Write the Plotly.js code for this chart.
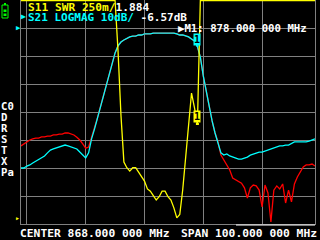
<!DOCTYPE html>
<html><head><meta charset="utf-8">
<script src="https://cdn.plot.ly/plotly-3.0.1.min.js"></script>
<style>html,body{margin:0;padding:0;background:#000;overflow:hidden}#c{width:320px;height:240px}</style>
</head><body><div id="c"></div>
<script>
const freqMHz = [
 818,819,820,821,822,823,824,825,826,827,
 828,829,830,831,832,833,834,835,836,837,
 838,839,840,841,842,843,844,845,846,847,
 848,849,850,851,852,853,854,855,856,857,
 858,859,860,861,862,863,864,865,866,867,
 868,869,870,871,872,873,874,875,876,877,
 878,879,880,881,882,883,884,885,886,887,
 888,889,890,891,892,893,894,895,896,897,
 898,899,900,901,902,903,904,905,906,907,
 908,909,910,911,912,913,914,915,916,917,
 918];
// S21 LOGMAG (cyan), dB
const s21dB = [
 -50.0,-50.0,-49.3,-48.9,-48.2,-47.5,-46.8,-46.4,-45.7,-44.6,
 -43.6,-43.2,-42.9,-42.5,-42.1,-41.8,-42.1,-42.5,-42.9,-43.2,
 -44.3,-45.4,-46.4,-44.6,-39.6,-36.1,-32.1,-28.2,-24.3,-20.4,
 -16.8,-12.5,-8.9,-6.4,-5.0,-4.3,-3.6,-3.2,-2.9,-2.9,
 -2.5,-2.5,-2.1,-2.1,-2.1,-1.8,-1.8,-1.8,-1.8,-1.8,
 -1.8,-1.8,-1.8,-2.1,-2.5,-2.5,-2.9,-3.2,-3.9,-4.6,
 -6.57,-10.4,-17.1,-22.9,-27.5,-33.2,-37.5,-40.7,-44.6,-45.4,
 -45.0,-45.7,-46.1,-46.4,-46.8,-46.8,-46.4,-46.1,-45.4,-45.0,
 -44.6,-44.3,-44.3,-43.9,-43.6,-43.2,-42.9,-42.5,-42.1,-42.1,
 -41.8,-41.8,-41.1,-40.7,-40.7,-40.7,-40.7,-40.7,-40.4,-40.0,
 -39.6];
// stored S21 memory trace (red), dB
const memdB = [
 -42.1,-41.4,-40.4,-40.0,-39.6,-39.3,-39.3,-38.9,-38.9,-38.6,
 -38.6,-38.2,-38.2,-37.9,-37.9,-37.5,-37.5,-37.9,-38.2,-39.0,
 -40.0,-41.4,-42.9,-42.5,-39.3,-36.1,-32.1,-28.2,-24.3,-20.4,
 -16.8,-12.5,-8.9,-6.4,-5.0,-4.3,-3.6,-3.2,-2.9,-2.9,
 -2.5,-2.5,-2.1,-2.1,-2.1,-1.8,-1.8,-1.8,-1.8,-1.8,
 -1.8,-1.8,-1.8,-2.1,-2.5,-2.5,-2.9,-3.2,-3.9,-4.6,
 -6.6,-10.4,-17.1,-22.9,-27.5,-33.2,-37.5,-40.7,-45.4,-47.1,
 -48.9,-50.7,-53.6,-54.3,-55.0,-55.4,-57.1,-60.7,-57.1,-56.1,
 -56.4,-57.9,-63.9,-56.1,-58.9,-69.3,-57.9,-56.4,-57.5,-55.7,
 -62.5,-57.9,-62.1,-55.7,-53.2,-51.4,-49.6,-48.9,-48.9,-48.6,
 -49.3];
// S11 SWR (yellow), clipped at top of scale (3.0)
const s11swr = [
 3.0,3.0,3.0,3.0,3.0,3.0,3.0,3.0,3.0,3.0,
 3.0,3.0,3.0,3.0,3.0,3.0,3.0,3.0,3.0,3.0,
 3.0,3.0,3.0,3.0,3.0,3.0,3.0,3.0,3.0,3.0,
 3.0,3.0,3.0,2.55,1.97,1.55,1.50,1.47,1.50,1.50,
 1.46,1.42,1.38,1.31,1.29,1.25,1.21,1.24,1.29,1.29,
 1.24,1.21,1.14,1.05,1.08,1.30,1.61,1.93,2.17,2.04,
 1.884,3.0,3.0,3.0,3.0,3.0,3.0,3.0,3.0,3.0,
 3.0,3.0,3.0,3.0,3.0,3.0,3.0,3.0,3.0,3.0,
 3.0,3.0,3.0,3.0,3.0,3.0,3.0,3.0,3.0,3.0,
 3.0,3.0,3.0,3.0,3.0,3.0,3.0,3.0,3.0,3.0,
 3.0];
const markerFreq = 878;
const xGridMHz = [820,840,860,880,900];
const yGridDB = [0,-10,-20,-30,-40,-50,-60];
const centerLabel = "CENTER 868.000 000 MHz";
const spanLabel = "SPAN 100.000 000 MHz";
const sideLabels = ["C0","D","R","S","T","X","Pa"];

// ---- layout helpers ----
const W=320,H=240,L=21,R=5,T=0,B=16;
const pw=W-L-R, ph=H-T-B;
const px = x => (x-L)/pw;
const py = y => (H-B-y)/ph;
const mono = "DejaVu Sans Mono, monospace";
const mi = freqMHz.indexOf(markerFreq);
const YEL="#ffff00", CYA="#00ffff", RED="#ff0000", GRID="#808080";

const data = [
 {x:freqMHz, y:s11swr, yaxis:'y2', mode:'lines', line:{color:YEL,width:1.3}, hoverinfo:'skip'},
 {x:freqMHz, y:memdB, mode:'lines', line:{color:RED,width:1.3}, hoverinfo:'skip'},
 {x:freqMHz, y:s21dB, mode:'lines', line:{color:CYA,width:1.3}, hoverinfo:'skip'}
];

function txt(x,y,text,size,color,anchor){
  return {xref:'paper',yref:'paper',x:px(x),y:py(y),xanchor:anchor||'left',yanchor:'middle',
    text:text,showarrow:false,borderpad:0,font:{family:mono,size:size,color:color||'#ffffff',weight:700}};
}
const ann = [];
ann.push(txt(27,7,'<span style="color:'+YEL+'">S11 SWR 250m/</span>'+s11swr[mi].toFixed(3),11.2));
ann.push(txt(20,17,'▶',8,CYA));
ann.push(txt(27,17.5,'<span style="color:'+CYA+'">S21 LOGMAG 10dB/</span> '+s21dB[mi].toFixed(2)+'dB',11));
ann.push(txt(177,29,'▶M1: '+markerFreq.toFixed(3)+' 000 MHz',10.7));
ann.push(txt(19,233.5,centerLabel,11.3));
ann.push(txt(180,233.5,spanLabel,11.3));
sideLabels.forEach((s,i)=>ann.push(txt(0,105.5+11*i,s,10.6)));
// reference-level markers
ann.push({xref:'paper',yref:'y',x:px(14),y:0,xanchor:'left',yanchor:'middle',text:'▶',showarrow:false,font:{family:mono,size:7,color:CYA}});
ann.push({xref:'paper',yref:'y2',x:px(14),y:1,xanchor:'left',yanchor:'bottom',text:'▶',showarrow:false,font:{family:mono,size:5,color:YEL}});
// trace markers "1"
ann.push({x:markerFreq,y:s21dB[mi],xref:'x',yref:'y',text:'1',showarrow:true,ax:0,ay:-7,arrowhead:0,arrowwidth:3,arrowcolor:CYA,
  bgcolor:CYA,borderpad:0,font:{family:mono,size:10,color:'#000000',weight:700}});
ann.push({x:markerFreq,y:s11swr[mi],xref:'x',yref:'y2',text:'1',showarrow:true,ax:0,ay:-8,arrowhead:0,arrowwidth:3,arrowcolor:YEL,
  bgcolor:YEL,borderpad:0,font:{family:mono,size:10,color:'#000000',weight:700}});

const shapes = [
 // battery icon
 {type:'rect',xref:'paper',yref:'paper',x0:px(2),x1:px(8),y0:py(18),y1:py(5),line:{color:'#00ff00',width:1},fillcolor:'rgba(0,0,0,0)'},
 {type:'rect',xref:'paper',yref:'paper',x0:px(4),x1:px(6),y0:py(5),y1:py(3),line:{width:0},fillcolor:'#00ff00'},
 {type:'rect',xref:'paper',yref:'paper',x0:px(3.5),x1:px(6.5),y0:py(12),y1:py(9.5),line:{width:0},fillcolor:'#00ff00'},
 {type:'rect',xref:'paper',yref:'paper',x0:px(3.5),x1:px(6.5),y0:py(16),y1:py(13.5),line:{width:0},fillcolor:'#00ff00'},
 // status bar line bottom right
 {type:'line',xref:'paper',yref:'paper',x0:px(236),x1:px(315),y0:py(225),y1:py(225),line:{color:'#ffffff',width:1}}
];

const axBase = {showticklabels:false,ticks:'',zeroline:false,showgrid:true,gridcolor:GRID,gridwidth:1,
  showline:true,linecolor:GRID,linewidth:1,fixedrange:true};
const layout = {
  width:W,height:H,margin:{l:L,r:R,t:T,b:B,pad:0},
  paper_bgcolor:'#000000',plot_bgcolor:'#000000',showlegend:false,
  xaxis:Object.assign({},axBase,{range:[818,918],tickvals:xGridMHz,mirror:false}),
  yaxis:Object.assign({},axBase,{range:[-70,10],tickvals:yGridDB,mirror:true}),
  yaxis2:{overlaying:'y',side:'right',range:[0.995,3.005],showgrid:false,showticklabels:false,ticks:'',zeroline:false,showline:false,fixedrange:true},
  annotations:ann,shapes:shapes,font:{family:mono,color:'#ffffff'}
};
Plotly.newPlot('c',data,layout,{displayModeBar:false,staticPlot:true});
</script></body></html>
